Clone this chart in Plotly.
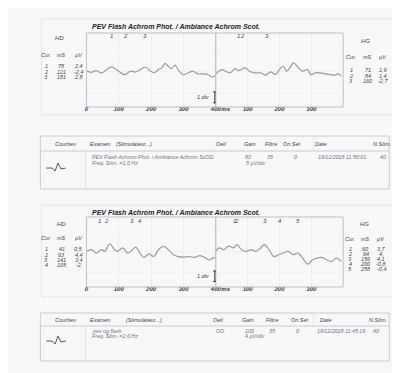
import plotly.graph_objects as go

W, H = 400, 373

# ---------------- data ----------------
# Panel 1 : time (ms) and amplitude (µV)
p1_left_ms = [0, 15, 30, 46, 61, 77, 97, 117, 137, 152, 167, 183, 198, 210, 223, 233, 243, 253, 263, 274,
              284, 299, 314, 329, 344, 359, 375, 390, 400]
p1_left_uv = [0.2, -0.5, 0.3, -0.8, 0.5, 2.0, 0.3, -1.6, 0.0, -0.4, 0.8, 1.8, 0.0, -0.7, 0.8, 1.5, 3.6, 2.2,
              1.2, 2.8, 0.6, -1.6, -0.8, 0.0, -1.2, -1.2, -1.5, -2.7, -1.5]
p1_right_ms = [0, 20, 30, 45, 61, 71, 81, 91, 106, 121, 141, 157, 172, 187, 202, 212, 222, 232, 244, 258,
               273, 288, 298, 313, 328, 343, 359, 374, 384, 394]
p1_right_uv = [-1.2, 0.75, 0.0, -0.75, 1.2, 0.3, 0.75, 1.5, 0.0, -0.75, -0.75, -1.8, -0.3, -1.5, 1.2, 2.25,
               0.0, 1.5, 3.75, 1.8, 0.0, 0.75, -1.5, -0.75, -0.75, -1.2, -1.5, -1.8, -1.2, -2.25]

# Panel 2
p2_left_ms = [0, 16, 31, 46, 57, 72, 87, 97, 112, 128, 138, 152, 167, 178, 193, 208, 223, 238, 253, 269,
              284, 299, 319, 334, 350, 365, 380, 390, 398]
p2_left_uv = [0.0, 0.65, -0.65, 0.65, 0.0, 2.9, 0.65, 0.0, 1.3, -0.65, 0.0, 1.6, -1.0, -2.3, -1.0, -2.0,
              0.65, 1.95, 0.65, -1.3, -2.0, -2.2, -2.0, -2.3, -1.6, -2.3, -3.3, -2.6, -2.3]
p2_right_ms = [0, 10, 25, 40, 56, 66, 81, 96, 111, 126, 141, 152, 167, 182, 197, 212, 227, 242, 258, 273,
               288, 303, 318, 333, 349, 364, 379, 394]
p2_right_uv = [0.0, 1.3, 0.65, 2.0, 1.3, 2.6, 0.65, 0.0, 0.65, 0.0, 1.3, 2.6, 0.65, -2.0, -1.3, -0.65, 0.0,
               -1.3, -0.65, -2.6, -4.9, -3.3, -2.6, -2.3, -3.3, -3.9, -2.6, -3.9]

# Cursor tables
p1_hd_cur = ["1", "2", "3"]
p1_hd_ms = [78, 121, 181]
p1_hd_uv = ["2,4", "-2,4", "2,8"]
p1_hg_cur = ["1", "2", "3"]
p1_hg_ms = [71, 84, 160]
p1_hg_uv = ["1,9", "1,4", "-2,7"]

p2_hd_cur = ["1", "2", "3", "4"]
p2_hd_ms = [41, 63, 141, 165]
p2_hd_uv = ["0,5", "4,4", "3,4", "-2,"]
p2_hg_cur = ["1", "2", "3", "4", "5"]
p2_hg_ms = [60, 64, 156, 200, 258]
p2_hg_uv = ["3,7", "4,", "4,1", "-0,8", "-0,4"]

x_ticks_left = [0, 100, 200, 300, 400]
x_ticks_right = [100, 200, 300]
unit_label = "ms"

title_text = "PEV Flash Achrom Phot. / Ambiance Achrom Scot."
table_headers = ["Courbes", "Examen", "(Stimulateur...)", "Oeil", "Gain", "Filtre", "On Set", "Date", "N.Stim."]
t1_exam = ["PEV Flash Achrom Phot. / Ambiance Achrom ScOD", "Freq. Stim. =1,0 Hz"]
t1_vals = ["80", "5 µV/div", "35", "0", "19/12/2018 11:50:01", "40"]
t2_exam = ["pev og flash", "Freq. Stim. =2,0 Hz"]
t2_oeil = "OG"
t2_vals = ["100", "4 µV/div", "35", "0", "19/12/2018 11:45:19", "40"]

# ---------------- helpers ----------------
def px(x):
    return x / W

def py(y):
    return 1 - y / H

GRID = "#ececec"
BOX = "#b7c1cc"
WAVE = "#9a9a9a"
TXT = "#444444"
BODY = "#66728a"
FONT = "Liberation Sans"

fig = go.Figure()

XL0, XSEP, XR1 = 78, 210, 340
P1_TOP, P1_BOT = 25, 99
P2_TOP, P2_BOT = 209, 279
P1_YR = [-16.3, 17.4]
P2_YR = [-13.6, 13.1]
UNIT_POS = 31  # position (ms, right half) of the "ms" unit label

traces = [
    (p1_left_ms, p1_left_uv, "x", "y"),
    (p1_right_ms, p1_right_uv, "x2", "y2"),
    (p2_left_ms, p2_left_uv, "x3", "y3"),
    (p2_right_ms, p2_right_uv, "x4", "y4"),
]
for xs, ys, xa, ya in traces:
    fig.add_trace(go.Scatter(x=xs, y=ys, xaxis=xa, yaxis=ya, mode="lines",
                             line=dict(color=WAVE, width=1.2, shape="spline", smoothing=1.0),
                             hoverinfo="skip", showlegend=False))

def xax(dom, ticks, anchor, unit=False):
    vals = list(ticks)
    txt = ["<b><i>%d</i></b>" % t for t in ticks]
    if unit:
        vals = [UNIT_POS] + vals
        txt = ["<b><i>%s</i></b>" % unit_label] + txt
    return dict(domain=dom, range=[0, 400], anchor=anchor, tickvals=vals, ticktext=txt,
                tickfont=dict(size=6, color="#333", family=FONT),
                showgrid=False, zeroline=False, showline=False,
                minor=dict(tickvals=list(ticks), showgrid=True, gridcolor=GRID, ticks=""),
                ticks="", ticklen=0, ticklabelstandoff=-3, fixedrange=True)

def yax(dom, rng, dt):
    return dict(domain=dom, range=rng, showticklabels=False, showgrid=True, gridcolor="#f1f1f1",
                dtick=dt, tick0=0, zeroline=False, showline=False, ticks="", fixedrange=True)

d1 = [py(P1_BOT), py(P1_TOP)]
d2 = [py(P2_BOT), py(P2_TOP)]
fig.update_layout(
    xaxis=xax([px(XL0), px(XSEP)], x_ticks_left, "y"),
    xaxis2=xax([px(XSEP), px(XR1)], x_ticks_right, "y2", unit=True),
    xaxis3=xax([px(XL0), px(XSEP)], x_ticks_left, "y3"),
    xaxis4=xax([px(XSEP), px(XR1)], x_ticks_right, "y4", unit=True),
    yaxis=yax(d1, P1_YR, 10),
    yaxis2=yax(d1, P1_YR, 10),
    yaxis3=yax(d2, P2_YR, 8),
    yaxis4=yax(d2, P2_YR, 8),
)

shapes = []
for (t, b) in [(11, 107), (197, 289)]:
    shapes.append(dict(type="rect", xref="paper", yref="paper", x0=px(32), x1=px(392), y0=py(b), y1=py(t),
                       line=dict(color="#e4e4e4", width=1)))
for (t, b) in [(P1_TOP, P1_BOT), (P2_TOP, P2_BOT)]:
    shapes.append(dict(type="rect", xref="paper", yref="paper", x0=px(XL0), x1=px(XR1), y0=py(b), y1=py(t),
                       line=dict(color=BOX, width=1)))
    shapes.append(dict(type="line", xref="paper", yref="paper", x0=px(XSEP), x1=px(XSEP), y0=py(b), y1=py(t),
                       line=dict(color="#a9b3bf", width=1)))
for xa, ya, y0, y1 in [("x", "y", -14.4, -9.4), ("x3", "y3", -11.5, -7.5)]:
    shapes.append(dict(type="line", xref=xa, yref=ya, x0=397, x1=397, y0=y0, y1=y1,
                       line=dict(color="#333", width=1)))
    for yy in (y0, y1):
        shapes.append(dict(type="line", xref=xa, yref=ya, x0=392, x1=402, y0=yy, y1=yy,
                           line=dict(color="#333", width=1)))
for (t, hl, b) in [(128, 143, 181), (305, 318, 353)]:
    shapes.append(dict(type="rect", xref="paper", yref="paper", x0=px(31), x1=px(387), y0=py(b), y1=py(t),
                       line=dict(color="#c3ccd6", width=1)))
    shapes.append(dict(type="line", xref="paper", yref="paper", x0=px(31), x1=px(387), y0=py(hl), y1=py(hl),
                       line=dict(color="#c3ccd6", width=1)))
    shapes.append(dict(type="line", xref="paper", yref="paper", x0=px(77), x1=px(77), y0=py(b), y1=py(hl),
                       line=dict(color="#dde3ea", width=1)))
    shapes.append(dict(type="line", xref="paper", yref="paper", x0=px(310), x1=px(310), y0=py(hl), y1=py(t),
                       line=dict(color="#dde3ea", width=1)))
for cy in (160, 333):
    pts = [(37, cy), (43, cy), (46, cy + 3), (49, cy - 5), (52, cy + 1), (57, cy)]
    path = "M " + " L ".join("%.4f,%.4f" % (px(a), py(b)) for a, b in pts)
    shapes.append(dict(type="path", xref="paper", yref="paper", path=path,
                       line=dict(color="#555", width=1)))
fig.update_layout(shapes=shapes)

ann = []

def text(x, y, s, size=5.5, color=TXT, xanchor="center", bold=False):
    s2 = "<i>%s</i>" % s
    if bold:
        s2 = "<b>%s</b>" % s2
    ann.append(dict(x=px(x), y=py(y), xref="paper", yref="paper", text=s2, showarrow=False,
                    xanchor=xanchor, yanchor="middle", font=dict(size=size, color=color, family=FONT)))

for ty in (18, 204):
    text(82, ty, title_text, size=7, color="#222", xanchor="left", bold=True)

text(197, 89, "1 div", size=5.5, color="#333")
text(197, 268, "1 div", size=5.5, color="#333")

def cursor_labels(cur, ms, xa, ytop):
    for c, m in zip(cur, ms):
        ann.append(dict(x=m, y=py(ytop), xref=xa, yref="paper", text="<i>%s</i>" % c, showarrow=False,
                        xanchor="center", yanchor="middle", font=dict(size=6, color=TXT, family=FONT)))

cursor_labels(p1_hd_cur, p1_hd_ms, "x", 28)
cursor_labels(p1_hg_cur, p1_hg_ms, "x2", 28)
cursor_labels(p2_hd_cur, p2_hd_ms, "x3", 213)
cursor_labels(p2_hg_cur, p2_hg_ms, "x4", 213)

def ctable(label, lx, ly, cols, hy, rows_y, cur, ms, uv):
    text(lx, ly, label, size=6)
    for cx, h in zip(cols, ["Cur.", "mS", "µV"]):
        text(cx, hy, h, size=5.5)
    for ry, c, m, u in zip(rows_y, cur, ms, uv):
        text(cols[0], ry, c, size=5.5)
        text(cols[1], ry, str(m), size=5.5)
        text(cols[2], ry, u, size=5.5)

ctable("HD", 50, 30, [37, 53, 70], 47, [58, 63.5, 69], p1_hd_cur, p1_hd_ms, p1_hd_uv)
ctable("HG", 363, 33, [348, 365, 381], 49, [62, 67.5, 73], p1_hg_cur, p1_hg_ms, p1_hg_uv)
ctable("HD", 53, 216, [37, 53, 70], 230, [241, 246.5, 252, 257], p2_hd_cur, p2_hd_ms, p2_hd_uv)
ctable("HG", 362, 216, [347, 363, 379], 231, [241, 246, 251, 256, 261], p2_hg_cur, p2_hg_ms, p2_hg_uv)

t1_head_x = [57, 92, 127, 216, 245, 266, 288, 317, 380]
t2_head_x = [57, 92, 137, 213, 243, 267, 296, 322, 375]
for hx, hy in [(t1_head_x, 136), (t2_head_x, 312)]:
    for x, h in zip(hx, table_headers):
        text(x, hy, h, size=5.5, color="#3d3d3d")

text(82, 149.5, t1_exam[0], size=5.3, color=BODY, xanchor="left")
text(82, 155, t1_exam[1], size=5.3, color=BODY, xanchor="left")
text(238, 149.5, t1_vals[0], size=5.3, color=BODY, xanchor="left")
text(239, 155, t1_vals[1], size=5.3, color=BODY, xanchor="left")
text(260, 149.5, t1_vals[2], size=5.3, color=BODY, xanchor="left")
text(288, 149.5, t1_vals[3], size=5.3, color=BODY, xanchor="left")
text(312, 149.5, t1_vals[4], size=5.3, color=BODY, xanchor="left")
text(375, 149.5, t1_vals[5], size=5.3, color=BODY, xanchor="left")

text(82, 323, t2_exam[0], size=5.3, color=BODY, xanchor="left")
text(82, 328, t2_exam[1], size=5.3, color=BODY, xanchor="left")
text(208, 323, t2_oeil, size=5.3, color=BODY, xanchor="left")
text(238, 323, t2_vals[0], size=5.3, color=BODY, xanchor="left")
text(238, 328, t2_vals[1], size=5.3, color=BODY, xanchor="left")
text(262, 323, t2_vals[2], size=5.3, color=BODY, xanchor="left")
text(290, 323, t2_vals[3], size=5.3, color=BODY, xanchor="left")
text(311, 323, t2_vals[4], size=5.3, color=BODY, xanchor="left")
text(368, 323, t2_vals[5], size=5.3, color=BODY, xanchor="left")

fig.update_layout(annotations=ann, width=W, height=H, margin=dict(l=0, r=0, t=0, b=0),
                  paper_bgcolor="#f8f8f8", plot_bgcolor="rgba(0,0,0,0)", showlegend=False,
                  font=dict(family=FONT))

fig.write_html("out.html", config={"displayModeBar": False})
